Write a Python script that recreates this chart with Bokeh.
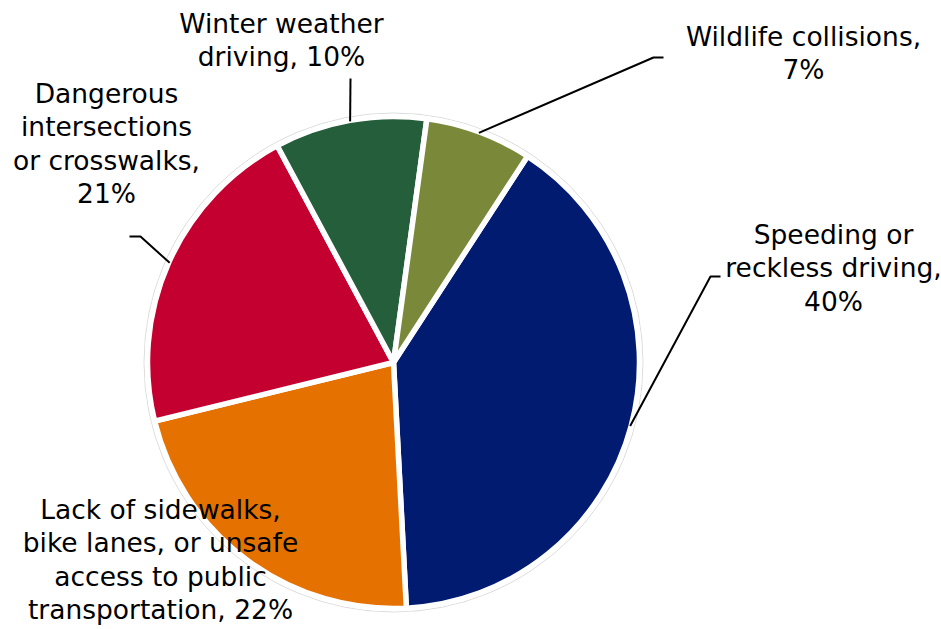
import numpy as np
from bokeh.plotting import figure
from bokeh.models import Range1d
from bokeh.core.properties import value
from bokeh.embed import file_html
from bokeh.resources import INLINE

# ---- data ----
categories = [
    "Speeding or reckless driving",
    "Lack of sidewalks, bike lanes, or unsafe access to public transportation",
    "Dangerous intersections or crosswalks",
    "Winter weather driving",
    "Wildlife collisions",
]
values = [40, 22, 21, 10, 7]
colors = ["#001B70", "#E57200", "#C40030", "#255E3B", "#7A8839"]
label_templates = [
    "Speeding or\nreckless driving,\n{}%",
    "Lack of sidewalks,\nbike lanes, or unsafe\naccess to public\ntransportation, {}%",
    "Dangerous\nintersections\nor crosswalks,\n{}%",
    "Winter weather\ndriving, {}%",
    "Wildlife collisions,\n{}%",
]

# ---- layout (screen-pixel coordinates; y is negated page y) ----
CX, CY, R = 393, -362, 246
START_DEG = 57.0
LINE_H = 33.3
TEXT_DY = -9
label_anchor = [  # centre x, first baseline (page y)
    (833, 243),
    (160, 518),
    (106, 102),
    (281, 31.5),
    (803, 45),
]
leader_pts = [  # extra points after the slice-edge point (page coords)
    [(710, 276), (720, 276)],
    None,
    [(140, 236), (129, 236)],
    [(350, 78)],
    [(653, 57), (663, 57)],
]

p = figure(width=941, height=629, output_backend="svg", toolbar_location=None,
           x_range=Range1d(0, 941), y_range=Range1d(-629, 0),
           min_border=0, outline_line_color=None)
p.axis.visible = False
p.grid.visible = False
p.background_fill_color = "white"

vals = np.array(values, dtype=float)
frac = vals / vals.sum()
cum = np.concatenate([[0], np.cumsum(frac)])
start = np.deg2rad(START_DEG) - 2 * np.pi * cum[:-1]
end = np.deg2rad(START_DEG) - 2 * np.pi * cum[1:]
mid = (start + end) / 2

# faint outer ring
p.scatter(x=[CX], y=[CY], size=2 * (R + 3.5), marker="circle", fill_color=None,
          line_color="#dcdcdc", line_width=1)

p.wedge(x=CX, y=CY, radius=R, start_angle=list(start), end_angle=list(end),
        direction="clock", fill_color=colors, line_color="white", line_width=5.5)

# leader lines
for i, pts in enumerate(leader_pts):
    if not pts:
        continue
    ex = CX + (R - 1) * np.cos(mid[i])
    ey = CY + (R - 1) * np.sin(mid[i])
    xs = [ex] + [q[0] for q in pts]
    ys = [ey] + [-q[1] for q in pts]
    p.line(xs, ys, line_color="black", line_width=2)

# labels
tx, ty, tt = [], [], []
for i, tpl in enumerate(label_templates):
    lines = tpl.format(values[i]).split("\n")
    ax, ay = label_anchor[i]
    for k, ln in enumerate(lines):
        tx.append(ax)
        ty.append(-(ay + TEXT_DY + k * LINE_H))
        tt.append(ln)
p.text(x=tx, y=ty, text=tt, text_font=value("DejaVu Sans"), text_font_size="26.5px",
       text_align="center", text_baseline="alphabetic", text_color="black")

open("out.html", "w").write(file_html(p, INLINE))
